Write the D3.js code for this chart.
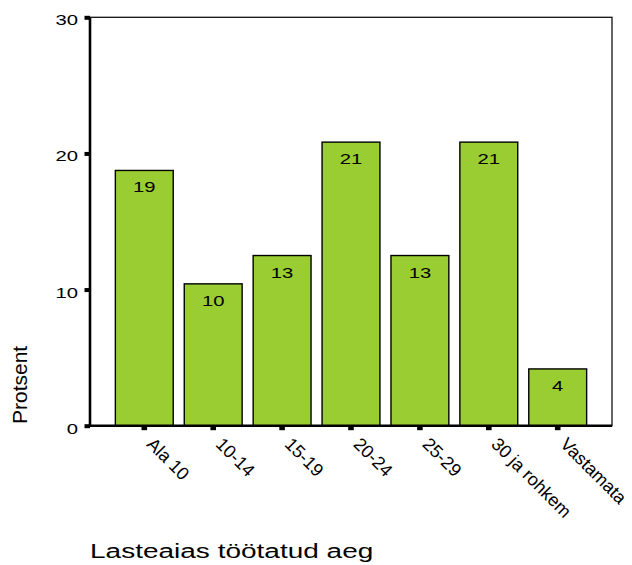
<!DOCTYPE html>
<html>
<head>
<meta charset="utf-8">
<script src="https://cdn.jsdelivr.net/npm/d3@7/dist/d3.min.js"></script>
<style>
  html, body { margin: 0; padding: 0; background: #fff; }
  svg { display: block; }
  text { font-family: "Liberation Sans", Arial, Helvetica, sans-serif; fill: #000; }
</style>
</head>
<body>
<svg id="chart" width="632" height="565"></svg>
<script>
// Share of respondents by years worked in kindergarten (n = 48)
const categories = ["Ala 10", "10-14", "15-19", "20-24", "25-29", "30 ja rohkem", "Vastamata"];
const percents = [18.75, 10.42, 12.5, 20.83, 12.5, 20.83, 4.17];
const yTicks = [0, 10, 20, 30];
const yTitle = "Protsent";
const xTitle = "Lasteaias töötatud aeg";

const svg = d3.select("#chart");
const plot = { left: 90, right: 612, top: 17.3, bottom: 425.7 };

const x = d3.scaleBand()
  .domain(categories)
  .range([plot.left, plot.right])
  .paddingInner(0.16)
  .paddingOuter(0.368);

const y = d3.scaleLinear()
  .domain([0, 30])
  .range([plot.bottom, plot.top]);

const fmt = d3.format(".0f");
const stretch = 1.35;

// frame
svg.append("rect")
  .attr("x", plot.left).attr("y", plot.top)
  .attr("width", plot.right - plot.left)
  .attr("height", plot.bottom - plot.top)
  .attr("fill", "none").attr("stroke", "#111").attr("stroke-width", 1.3);

// bars
svg.append("g").selectAll("rect")
  .data(categories)
  .join("rect")
  .attr("x", d => x(d))
  .attr("y", (d, i) => y(percents[i]))
  .attr("width", x.bandwidth())
  .attr("height", (d, i) => y(0) - y(percents[i]))
  .attr("fill", "#9acd32")
  .attr("stroke", "#000")
  .attr("stroke-width", 1.4);

// value labels inside bars
svg.append("g").selectAll("text")
  .data(categories)
  .join("text")
  .attr("transform", (d, i) => `translate(${x(d) + x.bandwidth() / 2},${y(percents[i]) + 22}) scale(${stretch},1)`)
  .attr("text-anchor", "middle")
  .attr("font-size", 15)
  .text((d, i) => fmt(percents[i]));

// y axis
const yAxis = d3.axisLeft(y).tickValues(yTicks).tickSize(0).tickFormat(d3.format("d"));
const gy = svg.append("g").attr("transform", `translate(${plot.left},0)`).call(yAxis);
gy.select(".domain").remove();
gy.selectAll(".tick text").remove();
gy.selectAll(".tick").append("rect")
  .attr("x", -5.5).attr("y", -2).attr("width", 5.5).attr("height", 4).attr("fill", "#000");
gy.selectAll(".tick").append("text")
  .attr("transform", `translate(-12,7.5) scale(${stretch},1)`)
  .attr("text-anchor", "end")
  .attr("font-size", 15)
  .text(d => d);

// x axis
const xAxis = d3.axisBottom(x).tickSize(0);
const gx = svg.append("g").attr("transform", `translate(0,${plot.bottom})`).call(xAxis);
gx.select(".domain").remove();
gx.selectAll(".tick text").remove();
gx.selectAll(".tick").append("rect")
  .attr("x", -2.8).attr("y", 0).attr("width", 5.6).attr("height", 4.5).attr("fill", "#000");
gx.selectAll(".tick").append("text")
  .attr("transform", "translate(6,15) rotate(45)")
  .attr("text-anchor", "start")
  .attr("dy", "0.35em")
  .attr("font-size", 18)
  .text(d => d);

// heavy axis lines
svg.append("line")
  .attr("x1", plot.left).attr("x2", plot.left)
  .attr("y1", plot.top).attr("y2", plot.bottom + 1)
  .attr("stroke", "#000").attr("stroke-width", 2.6);
svg.append("line")
  .attr("x1", plot.left - 1).attr("x2", plot.right)
  .attr("y1", plot.bottom).attr("y2", plot.bottom)
  .attr("stroke", "#000").attr("stroke-width", 2.4);

// axis titles
svg.append("text")
  .attr("transform", "translate(27,424) rotate(-90)")
  .attr("text-anchor", "start")
  .attr("font-size", 21)
  .text(yTitle);

svg.append("text")
  .attr("transform", `translate(90,558) scale(1.4,1)`)
  .attr("font-size", 20)
  .text(xTitle);
</script>
</body>
</html>
